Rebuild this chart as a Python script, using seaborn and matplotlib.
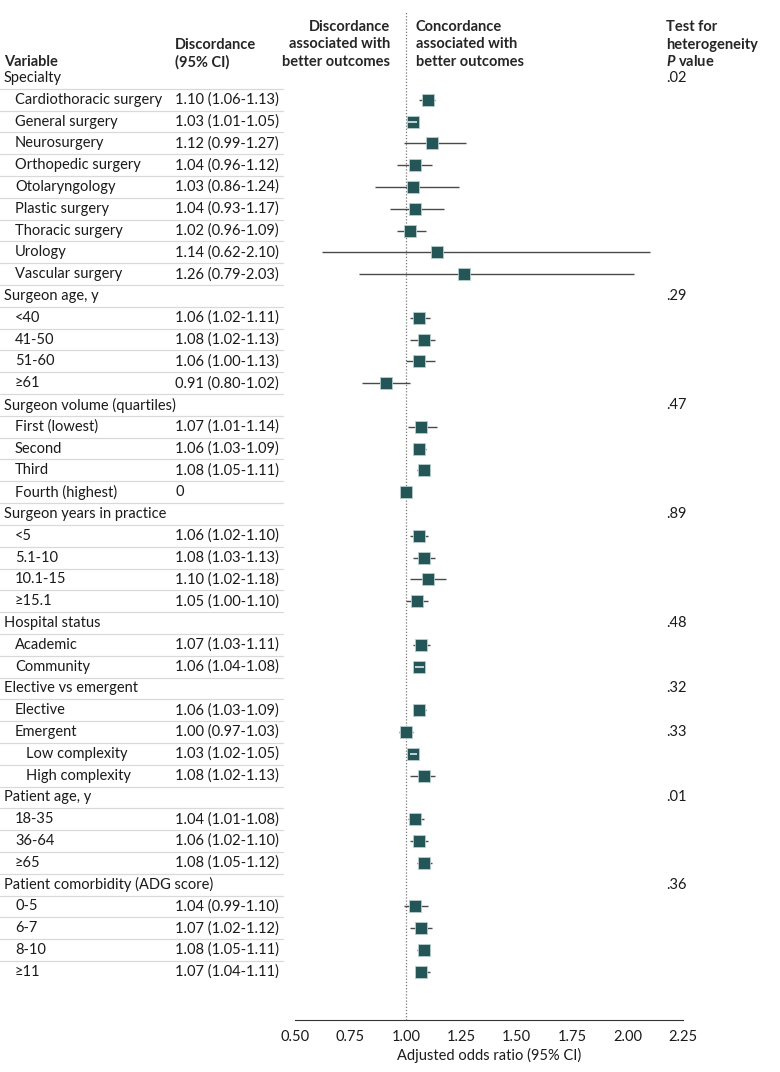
import numpy as np
import pandas as pd
import matplotlib.pyplot as plt
from matplotlib.transforms import blended_transform_factory
from matplotlib.lines import Line2D
import seaborn as sns

sns.set_style('white')
plt.rcParams['font.family'] = ['Lato', 'DejaVu Sans']
plt.rcParams['mathtext.fontset'] = 'custom'
plt.rcParams['mathtext.it'] = 'Lato:italic:bold'
plt.rcParams['mathtext.rm'] = 'Lato:bold'

# table rows (indent 0 = group header)
labels = ['Specialty', 'Cardiothoracic surgery', 'General surgery', 'Neurosurgery',
          'Orthopedic surgery', 'Otolaryngology', 'Plastic surgery', 'Thoracic surgery',
          'Urology', 'Vascular surgery',
          'Surgeon age, y', '<40', '41-50', '51-60', '≥61',
          'Surgeon volume (quartiles)', 'First (lowest)', 'Second', 'Third', 'Fourth (highest)',
          'Surgeon years in practice', '<5', '5.1-10', '10.1-15', '≥15.1',
          'Hospital status', 'Academic', 'Community',
          'Elective vs emergent', 'Elective', 'Emergent', 'Low complexity', 'High complexity',
          'Patient age, y', '18-35', '36-64', '≥65',
          'Patient comorbidity (ADG score)', '0-5', '6-7', '8-10', '≥11']
indent = [0, 1, 1, 1, 1, 1, 1, 1, 1, 1,
          0, 1, 1, 1, 1,
          0, 1, 1, 1, 1,
          0, 1, 1, 1, 1,
          0, 1, 1,
          0, 1, 1, 2, 2,
          0, 1, 1, 1,
          0, 1, 1, 1, 1]
nan = np.nan
est = [nan, 1.10, 1.03, 1.12, 1.04, 1.03, 1.04, 1.02, 1.14, 1.26,
       nan, 1.06, 1.08, 1.06, 0.91,
       nan, 1.07, 1.06, 1.08, 1.00,
       nan, 1.06, 1.08, 1.10, 1.05,
       nan, 1.07, 1.06,
       nan, 1.06, 1.00, 1.03, 1.08,
       nan, 1.04, 1.06, 1.08,
       nan, 1.04, 1.07, 1.08, 1.07]
lo = [nan, 1.06, 1.01, 0.99, 0.96, 0.86, 0.93, 0.96, 0.62, 0.79,
      nan, 1.02, 1.02, 1.00, 0.80,
      nan, 1.01, 1.03, 1.05, nan,
      nan, 1.02, 1.03, 1.02, 1.00,
      nan, 1.03, 1.04,
      nan, 1.03, 0.97, 1.02, 1.02,
      nan, 1.01, 1.02, 1.05,
      nan, 0.99, 1.02, 1.05, 1.04]
hi = [nan, 1.13, 1.05, 1.27, 1.12, 1.24, 1.17, 1.09, 2.10, 2.03,
      nan, 1.11, 1.13, 1.13, 1.02,
      nan, 1.14, 1.09, 1.11, nan,
      nan, 1.10, 1.13, 1.18, 1.10,
      nan, 1.11, 1.08,
      nan, 1.09, 1.03, 1.05, 1.13,
      nan, 1.08, 1.10, 1.12,
      nan, 1.10, 1.12, 1.11, 1.11]
p_values = ['.02', '', '', '', '', '', '', '', '', '',
            '.29', '', '', '', '',
            '.47', '', '', '', '',
            '.89', '', '', '', '',
            '.48', '', '',
            '.32', '', '.33', '', '',
            '.01', '', '', '',
            '.36', '', '', '', '']
x_ticks = [0.50, 0.75, 1.00, 1.25, 1.50, 1.75, 2.00, 2.25]

df = pd.DataFrame({'label': labels, 'indent': indent, 'est': est, 'lo': lo, 'hi': hi, 'p': p_values})
df['row'] = np.arange(len(df))

W, H = 780, 1072
fig = plt.figure(figsize=(W / 100, H / 100), dpi=100)
row0, step = 78, 21.8
ax_top, ax_bot = 12, 1020
ax = fig.add_axes([295 / W, 1 - ax_bot / H, 388 / W, (ax_bot - ax_top) / H])
ax.set_xlim(0.5, 2.25)
ax.set_ylim((ax_bot - row0) / step, (ax_top - row0) / step)

teal = '#245657'
ax.axvline(1.0, color='#777777', lw=0.9, ls=(0, (1, 1.5)), zorder=1)

pts = df.dropna(subset=['est'])
ci = pts.dropna(subset=['lo'])
ax.hlines(ci['row'], ci['lo'], ci['hi'], color='#4a4a4a', lw=1.0, zorder=2)
sns.scatterplot(data=pts, x='est', y='row', marker='s', s=64, color=teal,
                edgecolor='#b9cfcf', linewidth=0.6, zorder=3, ax=ax, legend=False)
# narrow intervals show as a light line across the square
sq_half = 5.2 / 221.7
narrow = ci[((ci['est'] - ci['lo']) < sq_half) & ((ci['hi'] - ci['est']) < sq_half)]
ax.hlines(narrow['row'], narrow['lo'], narrow['hi'], color='#dfe9e9', lw=1.2, zorder=4)

sns.despine(ax=ax, left=True)
ax.set_yticks([])
ax.set_xticks(x_ticks)
ax.set_xticklabels([f'{t:.2f}' for t in x_ticks])
ax.tick_params(axis='x', length=5, width=0.8, color='#333333', labelsize=10.5, pad=2,
               labelcolor='#1a1a1a')
ax.spines['bottom'].set_color('#333333')
ax.spines['bottom'].set_linewidth(0.8)
ax.set_xlabel('Adjusted odds ratio (95% CI)', fontsize=10.5, labelpad=3, color='#1a1a1a')
ax.set_ylabel('')

# table text
tr = blended_transform_factory(fig.transFigure, ax.transData)
fs = 10.5
for _, r in df.iterrows():
    ax.text((4 + 11 * r['indent']) / W, r['row'], r['label'], transform=tr,
            va='center', ha='left', fontsize=fs, color='#1a1a1a', clip_on=False)
    if r['indent'] > 0:
        if np.isnan(r['lo']):
            txt = '0'
        else:
            txt = f"{r['est']:.2f} ({r['lo']:.2f}-{r['hi']:.2f})"
        ax.text(175 / W, r['row'], txt, transform=tr, va='center', ha='left',
                fontsize=fs, color='#1a1a1a', clip_on=False)
    if r['p']:
        ax.text(666 / W, r['row'], r['p'], transform=tr, va='center', ha='left',
                fontsize=fs, color='#1a1a1a', clip_on=False)
    if r['row'] < len(df) - 1:
        fig.add_artist(Line2D([0, 283 / W], [r['row'] + 0.5] * 2, transform=tr,
                              color='#d9d9d9', lw=0.9))

# headers
hfs = 10.5
def fy(px):
    return 1 - px / H

fig.text(4 / W, fy(62), 'Variable', ha='left', va='center', fontsize=hfs, fontweight='bold')
fig.text(175 / W, fy(45), 'Discordance', ha='left', va='center', fontsize=hfs, fontweight='bold')
fig.text(175 / W, fy(62), '(95% CI)', ha='left', va='center', fontsize=hfs, fontweight='bold')
for i, t in enumerate(['Discordance', 'associated with', 'better outcomes']):
    fig.text(390 / W, fy(27 + 17.5 * i), t, ha='right', va='center', fontsize=hfs, fontweight='bold')
    fig.text(416 / W, fy(27 + 17.5 * i), t.replace('Discordance', 'Concordance'),
             ha='left', va='center', fontsize=hfs, fontweight='bold')
for i, t in enumerate(['Test for', 'heterogeneity', '$\\mathit{P}$ value']):
    fig.text(666 / W, fy(27 + 17.5 * i), t, ha='left', va='center', fontsize=hfs, fontweight='bold')

fig.savefig('out.png', dpi=100, facecolor='white')
